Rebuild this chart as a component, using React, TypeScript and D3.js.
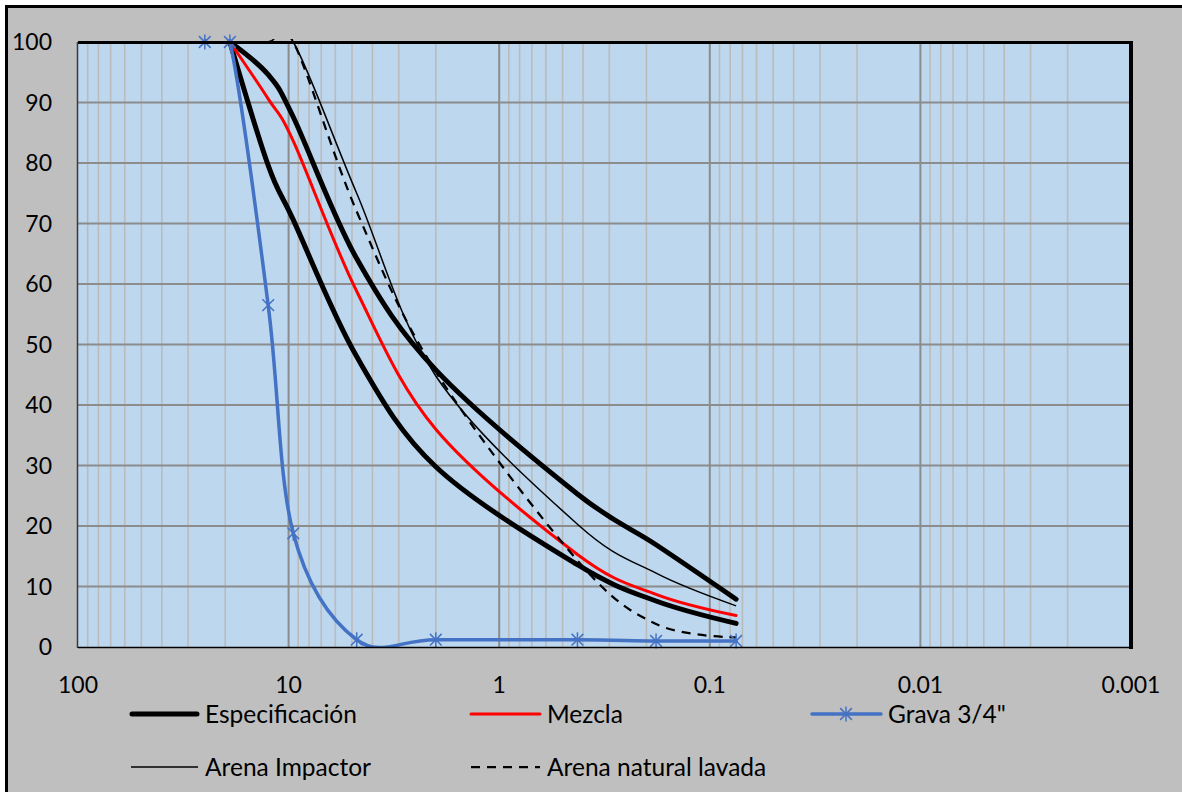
import React from "react";
import * as d3 from "d3";

// Sieve openings (mm)
const sievesMain = [19, 12.5, 9.5, 4.75, 2.0, 0.425, 0.18, 0.075];
const sievesGrava = [25, 19, 12.5, 9.5, 4.75, 2.0, 0.425, 0.18, 0.075];

// % passing
const specUpper = [100, 94.6, 87.6, 64.2, 45.8, 25.3, 16.9, 7.9];
const specLower = [100, 79.6, 70.6, 48, 29.8, 13.6, 7.6, 3.9];
const mezcla = [100, 90.6, 83.6, 58.8, 36.0, 15.3, 8.7, 5.2];
const grava = [100, 100, 56.5, 18.8, 1.2, 1.2, 1.2, 1.0, 1.0];
const arenaImpactor = [100, 100, 100, 75, 44.8, 20.3, 12.2, 6.8];
const arenaNatural = [100, 100, 100, 72, 45.5, 14.3, 3.8, 1.6];

const xTicks = [100, 10, 1, 0.1, 0.01, 0.001];
const xTickLabels = ["100", "10", "1", "0.1", "0.01", "0.001"];
const yTicks = [0, 10, 20, 30, 40, 50, 60, 70, 80, 90, 100];

const legendLabels = ["Especificación", "Mezcla", "Grava 3/4\"", "Arena Impactor", "Arena natural lavada"];

const W = 1182;
const H = 792;
const L = 78, R = 1131, T = 42, B = 647;
const FONT = "Lato, 'Noto Sans', sans-serif";
const BLUE = "#4472C4";

function Star({ cx, cy, s = 7.5 }: { cx: number; cy: number; s?: number }) {
  const d = s * 0.78;
  return (
    <g stroke={BLUE} strokeWidth={1.5} fill="none">
      <line x1={cx - d} y1={cy - d} x2={cx + d} y2={cy + d} />
      <line x1={cx - d} y1={cy + d} x2={cx + d} y2={cy - d} />
      <line x1={cx} y1={cy - s} x2={cx} y2={cy + s} />
    </g>
  );
}

export default function App() {
  const x = d3.scaleLog().domain([100, 0.001]).range([L, R]);
  const y = d3.scaleLinear().domain([0, 100]).range([B, T]);

  const line = d3
    .line<[number, number]>()
    .x((d) => x(d[0]))
    .y((d) => y(d[1]))
    .curve(d3.curveCardinal.tension(0));

  const mk = (sv: number[], vals: number[]) => line(sv.map((s, i) => [s, vals[i]] as [number, number])) || "";

  const minor: number[] = [];
  [10, 1, 0.1, 0.01, 0.001].forEach((dec) => {
    for (let k = 2; k <= 9; k++) minor.push(dec * k);
  });
  const major = [10, 1, 0.1, 0.01];

  return (
    <svg
      width={W}
      height={H}
      style={{ position: "absolute", left: 0, top: 0, background: "#ffffff" }}
      fontFamily={FONT}
    >
      <defs>
        <clipPath id="plotClip">
          <rect x={L} y={T - 3} width={R - L} height={B - T + 3} />
        </clipPath>
      </defs>
      {/* outer frame */}
      <rect x={6.5} y={6.5} width={W + 20} height={H + 20} fill="#BFBFBF" stroke="#000" strokeWidth={3} />

      {/* plot area */}
      <rect x={L} y={T} width={R - L} height={B - T} fill="#BDD7EE" />
      {minor.map((v, i) => (
        <line key={"mn" + i} x1={x(v)} x2={x(v)} y1={T} y2={B} stroke="#BBBBBB" strokeWidth={1.6} />
      ))}
      {major.map((v, i) => (
        <line key={"mj" + i} x1={x(v)} x2={x(v)} y1={T} y2={B} stroke="#8C8C8C" strokeWidth={2} />
      ))}
      {yTicks.slice(1, -1).map((v) => (
        <line key={"h" + v} x1={L} x2={R} y1={y(v)} y2={y(v)} stroke="#8C8C8C" strokeWidth={2} />
      ))}

      {/* series */}
      <g clipPath="url(#plotClip)" fill="none" strokeLinejoin="round">
        <path d={mk(sievesMain, specLower)} stroke="#000" strokeWidth={5} strokeLinecap="round" />
        <path d={mk(sievesMain, specUpper)} stroke="#000" strokeWidth={5} strokeLinecap="round" />
        <path d={mk(sievesMain, mezcla)} stroke="#FF0000" strokeWidth={3} strokeLinecap="round" />
        <path d={mk(sievesGrava, grava)} stroke={BLUE} strokeWidth={3.5} strokeLinecap="round" />
        <path d={mk(sievesMain, arenaImpactor)} stroke="#000" strokeWidth={1.5} />
        <path d={mk(sievesMain, arenaNatural)} stroke="#000" strokeWidth={2.25} strokeDasharray="9,7" />
      </g>
      {sievesGrava.map((s, i) => (
        <Star key={"st" + i} cx={x(s)} cy={y(grava[i])} />
      ))}

      {/* plot borders */}
      <line x1={L - 0.5} x2={L - 0.5} y1={T} y2={B + 1} stroke="#3a3a3a" strokeWidth={1.5} />
      <line x1={L} x2={R} y1={B + 0.5} y2={B + 0.5} stroke="#000" strokeWidth={1.5} />
      <rect x={L} y={T - 1} width={R + 2 - L} height={3} fill="#000" />
      <rect x={R - 2} y={T - 1} width={4} height={B - T + 3} fill="#000" />

      {/* y axis labels */}
      {yTicks.map((v) => (
        <text key={"yl" + v} x={52} y={y(v)} dy="0.36em" textAnchor="end" fontSize={23} fill="#000">
          {v}
        </text>
      ))}
      {/* x axis labels */}
      {xTicks.map((v, i) => (
        <text key={"xl" + i} x={x(v)} y={693} textAnchor="middle" fontSize={23} fill="#000">
          {xTickLabels[i]}
        </text>
      ))}

      {/* legend */}
      <g fontSize={24.5} fill="#000">
        <line x1={132} x2={197} y1={714} y2={714} stroke="#000" strokeWidth={5} strokeLinecap="round" />
        <text x={205} y={723}>{legendLabels[0]}</text>

        <line x1={471} x2={540} y1={714} y2={714} stroke="#FF0000" strokeWidth={3} strokeLinecap="round" />
        <text x={547} y={723}>{legendLabels[1]}</text>

        <line x1={812} x2={881} y1={714} y2={714} stroke={BLUE} strokeWidth={3.5} strokeLinecap="round" />
        <Star cx={846} cy={714} />
        <text x={888} y={723}>{legendLabels[2]}</text>

        <line x1={131} x2={198} y1={767} y2={767} stroke="#000" strokeWidth={1.5} />
        <text x={205} y={776}>{legendLabels[3]}</text>

        <line x1={471} x2={540} y1={767} y2={767} stroke="#000" strokeWidth={2.25} strokeDasharray="9,7" />
        <text x={547} y={776}>{legendLabels[4]}</text>
      </g>
    </svg>
  );
}
